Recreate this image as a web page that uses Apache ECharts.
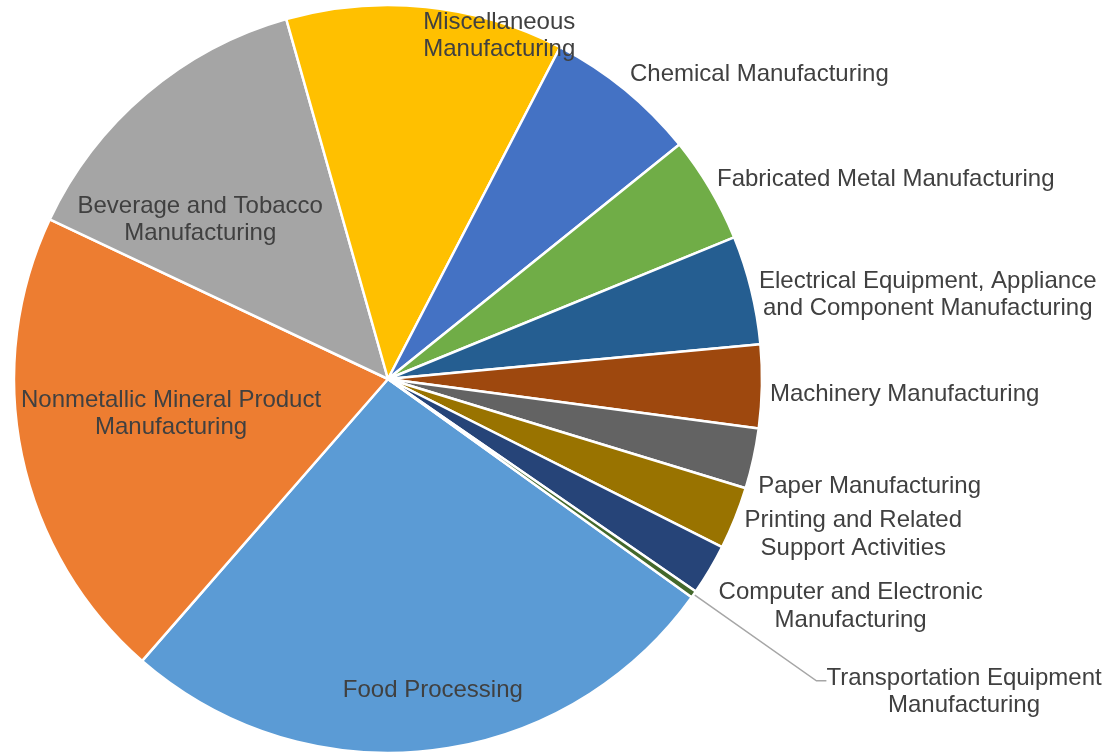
<!DOCTYPE html>
<html>
<head>
<meta charset="utf-8">
<script src="https://cdn.jsdelivr.net/npm/echarts@6/dist/echarts.min.js"></script>
<style>
  html, body { margin: 0; padding: 0; background: #ffffff; }
  #chart { width: 1111px; height: 756px; }
</style>
</head>
<body>
<div id="chart"></div>
<script>
// Manufacturing sectors and their share of the total (%), in clockwise drawing order
const categories = [
  'Food Processing',
  'Nonmetallic Mineral Product\nManufacturing',
  'Beverage and Tobacco\nManufacturing',
  'Miscellaneous\nManufacturing',
  'Chemical Manufacturing',
  'Fabricated Metal Manufacturing',
  'Electrical Equipment, Appliance\nand Component Manufacturing',
  'Machinery Manufacturing',
  'Paper Manufacturing',
  'Printing and Related\nSupport Activities',
  'Computer and Electronic\nManufacturing',
  'Transportation Equipment\nManufacturing'
];
const shares = [26.5, 20.6, 13.6, 12.0, 6.6, 4.6, 4.7, 3.6, 2.6, 2.7, 2.2, 0.3];

// Office-style palette, one colour per slice
const sliceColors = [
  '#5B9BD5', '#ED7D31', '#A5A5A5', '#FFC000', '#4472C4', '#70AD47',
  '#255E91', '#9E480E', '#636363', '#997300', '#264478', '#43682B'
];

// Which labels sit on the slice and which sit beside the pie
const insideLabel = [true, true, true, true, false, false, false, false, false, false, false, false];

// Fine offsets (px) applied after the library places each label
const labelNudge = [
  [23, 123], [-31, -4], [-65, -14], [92, -154],
  [0, -9], [0, -6], [0, 7], [0, 8],
  [-3, 26], [2, 13.5], [2, 32.5], [0, 11]
];

const chart = echarts.init(document.getElementById('chart'), null, { renderer: 'canvas' });

const seriesData = categories.map(function (name, i) {
  const item = {
    name: name,
    value: shares[i],
    itemStyle: { color: sliceColors[i] },
    label: { position: insideLabel[i] ? 'inside' : 'outside' }
  };
  if (i === categories.length - 1) {
    item.labelLine = {
      show: true,
      length: 150,
      length2: 10,
      lineStyle: { color: '#A6A6A6', width: 1.5 }
    };
  }
  return item;
});

chart.setOption({
  animation: false,
  backgroundColor: '#ffffff',
  series: [{
    type: 'pie',
    center: [388, 379],
    radius: 374,
    startAngle: -35.7,
    clockwise: true,
    avoidLabelOverlap: false,
    silent: true,
    itemStyle: { borderColor: '#ffffff', borderWidth: 2.5 },
    label: {
      show: true,
      formatter: '{b}',
      color: '#404040',
      fontFamily: '"Liberation Sans", Arial, sans-serif',
      fontSize: 24,
      lineHeight: 27.5,
      distanceToLabelLine: 0
    },
    labelLine: { show: false, length: 8, length2: 0 },
    labelLayout: function (p) {
      const i = p.dataIndex;
      const n = labelNudge[i];
      if (!insideLabel[i]) {
        return { align: 'center', dx: p.labelRect.width / 2 + n[0], dy: n[1] };
      }
      return { dx: n[0], dy: n[1] };
    },
    data: seriesData
  }]
});
</script>
</body>
</html>
